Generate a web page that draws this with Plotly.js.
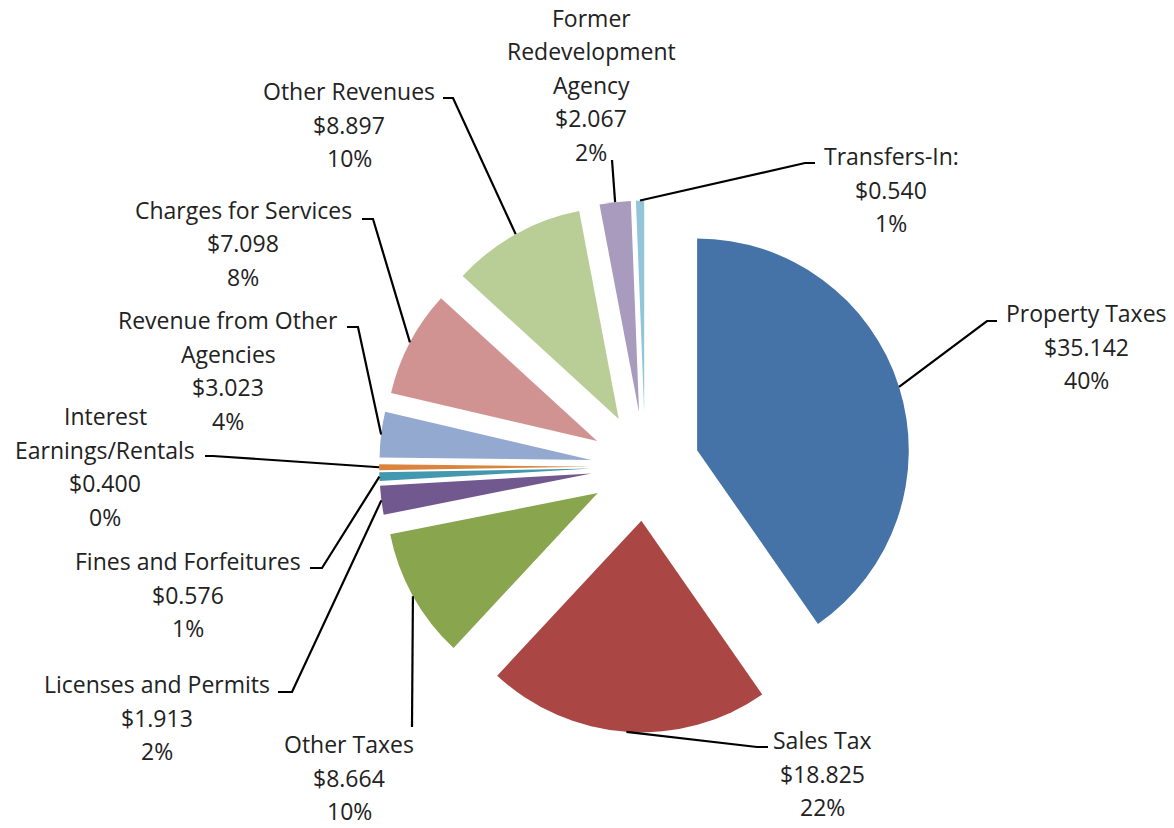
<!DOCTYPE html>
<html>
<head>
<meta charset="utf-8">
<script src="https://cdn.plot.ly/plotly-3.0.1.min.js"></script>
<style>html,body{margin:0;padding:0;background:#fff;}#chart{width:1174px;height:828px;}</style>
</head>
<body>
<div id="chart"></div>
<script>
// ---- data ----
const categories = ["Property Taxes", "Sales Tax", "Other Taxes", "Licenses and Permits",
  "Fines and Forfeitures", "Interest Earnings/Rentals", "Revenue from Other Agencies",
  "Charges for Services", "Other Revenues", "Former Redevelopment Agency", "Transfers-In:"];
const values = [35.142, 18.825, 8.664, 1.913, 0.576, 0.400, 3.023, 7.098, 8.897, 2.067, 0.540];
const valueLabels = ["$35.142", "$18.825", "$8.664", "$1.913", "$0.576", "$0.400", "$3.023", "$7.098", "$8.897", "$2.067", "$0.540"];
const percentLabels = ["40%", "22%", "10%", "2%", "1%", "0%", "4%", "8%", "10%", "2%", "1%"];

// ---- styling / layout config ----
const colors = ["#4572A7", "#AA4643", "#89A54E", "#71588F", "#4198AF", "#DB843D",
  "#93A9CF", "#D19392", "#B9CD96", "#A99BBD", "#92C5D8"];
const W = 1174, H = 828;
const PULL = 0.257;
const DOMAIN = {x: [0.3230, 0.7762], y: [0.1153, 0.7579]};
const LINE_PITCH = 33.5;
const FONT = {family: "'Open Sans', Lato, sans-serif", size: 23, color: "#222222"};

// label placement (pixel positions of label text and leader-line bends)
const labelPlacement = [
  {lines: ["Property Taxes"], x: 1086, y: 313, pts: [[987, 321], [997, 321]]},
  {lines: ["Sales Tax"], x: 822, y: 740, pts: [[757, 747], [768, 747]]},
  {lines: ["Other Taxes"], x: 349, y: 744, pts: [[412, 727]]},
  {lines: ["Licenses and Permits"], x: 157, y: 684, pts: [[292, 692], [278, 692]]},
  {lines: ["Fines and Forfeitures"], x: 188, y: 561, pts: [[322, 568], [310, 568]]},
  {lines: ["Interest", "Earnings/Rentals"], x: 105, y: 416, pts: [[213, 456], [205, 456]]},
  {lines: ["Revenue from Other", "Agencies"], x: 228, y: 320, pts: [[358, 327], [347, 327]]},
  {lines: ["Charges for Services"], x: 243, y: 210, pts: [[373, 219], [362, 219]]},
  {lines: ["Other Revenues"], x: 349, y: 91, pts: [[453, 98], [443, 98]]},
  {lines: ["Former", "Redevelopment", "Agency"], x: 591, y: 18, pts: [[612, 160]]},
  {lines: ["Transfers-In:"], x: 891, y: 156, pts: [[805, 163], [815, 163]]}
];

// ---- geometry derived from the pie as Plotly lays it out ----
const px2x = p => p / W;
const px2y = p => 1 - p / H;
const boxW = W * (DOMAIN.x[1] - DOMAIN.x[0]);
const boxH = H * (DOMAIN.y[1] - DOMAIN.y[0]);
const R = Math.min(boxW, boxH) / 2 / (1 + PULL);
const CX = W * (DOMAIN.x[0] + DOMAIN.x[1]) / 2;
const CY = H * (1 - DOMAIN.y[0]) - boxH / 2;
const total = values.reduce((a, b) => a + b, 0);

const annotations = [];
const shapes = [];
let cum = 0;
values.forEach((v, i) => {
  const mid = (cum + v / 2) / total * 2 * Math.PI;
  cum += v;
  const sx = CX + R * (1 + PULL) * Math.sin(mid);
  const sy = CY - R * (1 + PULL) * Math.cos(mid);
  const pl = labelPlacement[i];
  let path = "M" + px2x(sx) + "," + px2y(sy);
  pl.pts.forEach(p => { path += " L" + px2x(p[0]) + "," + px2y(p[1]); });
  shapes.push({type: "path", xref: "paper", yref: "paper", path: path,
    line: {color: "#000000", width: 2.2}});
  const allLines = pl.lines.concat([valueLabels[i], percentLabels[i]]);
  allLines.forEach((t, k) => {
    annotations.push({xref: "paper", yref: "paper", x: px2x(pl.x), y: px2y(pl.y + k * LINE_PITCH),
      xanchor: "center", yanchor: "middle", text: t, showarrow: false, font: FONT, borderpad: 0});
  });
});

const trace = {
  type: "pie",
  labels: categories,
  values: values,
  sort: false,
  direction: "clockwise",
  rotation: 0,
  pull: values.map(() => PULL),
  marker: {colors: colors, line: {width: 0}},
  textinfo: "none",
  hoverinfo: "label+value+percent",
  domain: DOMAIN,
  showlegend: false
};

const layout = {
  width: W, height: H,
  margin: {l: 0, r: 0, t: 0, b: 0},
  paper_bgcolor: "#ffffff",
  plot_bgcolor: "#ffffff",
  showlegend: false,
  annotations: annotations,
  shapes: shapes
};

Plotly.newPlot("chart", [trace], layout, {displayModeBar: false, staticPlot: true});
</script>
</body>
</html>
